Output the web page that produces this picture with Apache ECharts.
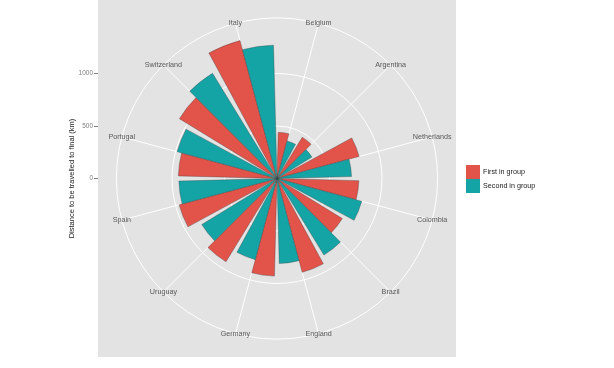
<!DOCTYPE html>
<html><head><meta charset="utf-8">
<script src="https://cdn.jsdelivr.net/npm/echarts@6/dist/echarts.min.js"></script>
<style>html,body{margin:0;padding:0;background:#fff}#c{width:614px;height:368px}</style>
</head><body><div id="c"></div>
<script>
// ---- data ----
const countries = ['Belgium','Argentina','Netherlands','Colombia','Brazil','England','Germany','Uruguay','Spain','Portugal','Switzerland','Italy'];
const firstInGroup  = [440, 460, 810, 780, 730, 925, 930, 930, 965, 940, 1090, 1360];
const secondInGroup = [370, 390, 710, 835, 855, 810, 800, 840, 935, 985, 1175, 1270];
const radiusTicks = [0, 500, 1000];
const seriesNames = ['First in group', 'Second in group'];
const yTitle = 'Distance to be travelled to final (km)';

// ---- layout ----
const PANEL = {left: 98, top: 0, width: 358, height: 357};
const CX = PANEL.left + PANEL.width / 2;
const CY = PANEL.top + PANEL.height / 2;
const R_OUT = 0.45 * PANEL.height;       // outer circle (ggplot 0.45)
const PX_PER_UNIT = 0.4 * PANEL.height / 1360; // max data at 0.4
const R_MAX = R_OUT / PX_PER_UNIT;
const Y_MAX = (CY - PANEL.top) / PX_PER_UNIT;
const Y_MIN = -(PANEL.top + PANEL.height - CY) / PX_PER_UNIT;
const FONT = 'Liberation Sans, Arial, sans-serif';

const chart = echarts.init(document.getElementById('c'), null, {renderer: 'canvas'});
chart.setOption({
  animation: false,
  textStyle: {fontFamily: FONT},
  grid: {left: PANEL.left, top: PANEL.top, width: PANEL.width, height: PANEL.height,
         show: true, backgroundColor: '#E3E3E3', borderWidth: 0},
  xAxis: {type: 'value', min: 0, max: 1, show: false},
  yAxis: {
    type: 'value', min: Y_MIN, max: Y_MAX,
    axisLine: {show: false}, splitLine: {show: false},
    axisTick: {show: true, length: 4, customValues: radiusTicks, lineStyle: {color: '#7F7F7F', width: 1}},
    axisLabel: {customValues: radiusTicks, fontSize: 6.5, color: '#7F7F7F', margin: 5,
                formatter: v => String(v)},
    name: yTitle, nameLocation: 'middle', nameGap: 22, nameMoveOverlap: false,
    nameTextStyle: {fontSize: 7.5, color: '#1a1a1a'}
  },
  polar: [
    {center: [CX, CY], radius: R_OUT},
    {center: [CX, CY], radius: R_OUT}
  ],
  angleAxis: [
    {polarIndex: 0, type: 'category', data: countries, startAngle: 90, clockwise: true,
     axisLine: {show: true, lineStyle: {color: '#FFFFFF', width: 1}},
     axisTick: {show: false}, axisLabel: {show: false}, splitLine: {show: false}},
    {polarIndex: 1, type: 'category', data: countries, startAngle: 75, clockwise: true,
     axisLine: {show: false}, axisTick: {show: false}, axisLabel: {show: false},
     splitLine: {show: true, lineStyle: {color: '#FFFFFF', width: 1}}}
  ],
  radiusAxis: [
    {polarIndex: 0, type: 'value', min: 0, max: R_MAX, interval: 500,
     axisLine: {show: false}, axisTick: {show: false}, axisLabel: {show: false},
     splitLine: {show: true, lineStyle: {width: 1,
       color: ['rgba(0,0,0,0)', '#FFFFFF', '#FFFFFF', 'rgba(0,0,0,0)', 'rgba(0,0,0,0)']}}},
    {polarIndex: 1, type: 'value', min: 0, max: R_MAX, show: false,
     axisLine: {show: false}, axisTick: {show: false}, axisLabel: {show: false}, splitLine: {show: false}}
  ],
  legend: {
    data: seriesNames, orient: 'vertical', left: 466, top: 165, padding: 0,
    itemWidth: 14, itemHeight: 14, itemGap: 0, icon: 'rect', selectedMode: false,
    itemStyle: {borderWidth: 0},
    textStyle: {fontSize: 7.2, color: '#1a1a1a', fontFamily: FONT, padding: [0, 0, 0, -2]}
  },
  series: [
    {type: 'bar', name: seriesNames[0], coordinateSystem: 'polar', polarIndex: 0,
     data: firstInGroup, barGap: '0%', barCategoryGap: '10%',
     itemStyle: {color: '#E2534A', borderColor: 'rgba(60,60,60,0.7)', borderWidth: 0.5}},
    {type: 'bar', name: seriesNames[1], coordinateSystem: 'polar', polarIndex: 0,
     data: secondInGroup, barGap: '0%', barCategoryGap: '10%',
     itemStyle: {color: '#14A4A6', borderColor: 'rgba(60,60,60,0.7)', borderWidth: 0.5}},
    {type: 'scatter', name: 'labels', coordinateSystem: 'polar', polarIndex: 0,
     data: countries.map((c, i) => [R_MAX, i]), symbolSize: 0, silent: true, z: 5,
     label: {show: true, position: 'inside', formatter: p => countries[p.dataIndex],
             fontSize: 7.2, color: '#333333', fontFamily: FONT}}
  ]
});
</script></body></html>
